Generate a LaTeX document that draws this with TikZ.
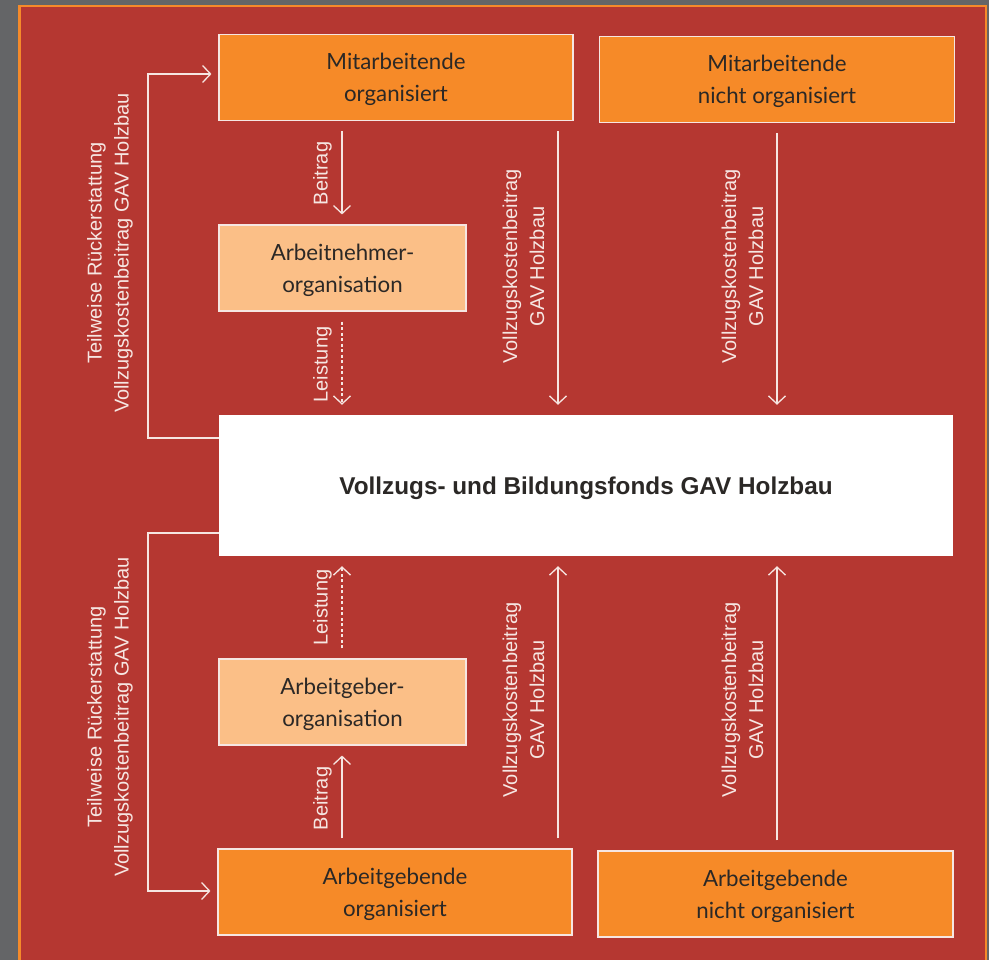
\documentclass[tikz,border=0pt]{standalone}
\usepackage{fontspec}
\setmainfont{Liberation Sans}
\newfontfamily\boxfont{Lato}
\usetikzlibrary{arrows.meta}
\definecolor{greybg}{HTML}{646567}
\definecolor{frameorange}{HTML}{F58A2A}
\definecolor{redbg}{HTML}{B53731}
\definecolor{boxorange}{HTML}{F68A28}
\definecolor{boxlight}{HTML}{FBBF87}
\definecolor{linecol}{HTML}{F6E6E2}
\definecolor{textdark}{HTML}{2B2826}
\begin{document}
\begin{tikzpicture}[x=1pt,y=-1pt,
  box/.style={draw=linecol, line width=1.1pt, inner sep=0pt,
    font=\boxfont\fontsize{22.3}{32}\selectfont, text=textdark, align=center, text depth=0pt},
  wide/.style={box, fill=boxorange, minimum width=354pt, minimum height=86pt},
  orgbox/.style={box, fill=boxlight, minimum width=247pt, minimum height=86pt},
  flow/.style={draw=linecol, line width=1.3pt, -{Straight Barb[length=8pt,width=17pt]},
    shorten <=10pt, shorten >=10pt},
  dashedflow/.style={flow, dash pattern=on 3pt off 2.5pt},
  lab/.style={font=\fontsize{20}{27}\selectfont, text=linecol, inner sep=0pt,
    rotate=90, align=center}]
\useasboundingbox (0,0) rectangle (989,960);
% background and frame
\fill[greybg] (0,0) rectangle (989,960);
\fill[frameorange] (18,5) rectangle (987,965);
\fill[redbg] (20.5,7.5) rectangle (984.5,965);

% boxes
\node[wide] (mo) at (396,77.5) {Mitarbeitende\\organisiert};
\node[wide, minimum width=355pt] (mno) at (777,79.5) {Mitarbeitende\\nicht organisiert};
\node[orgbox] (ano) at (342.5,268) {Arbeitnehmer-\\organisation};
\node[fill=white, inner sep=0pt, minimum width=734pt, minimum height=141pt,
  font=\bfseries\fontsize{24.3}{28}\selectfont, text=textdark, text depth=0pt]
  (fund) at (586,485.5) {Vollzugs- und Bildungsfonds GAV Holzbau};
\node[orgbox] (ago) at (342.5,702) {Arbeitgeber-\\organisation};
\node[wide] (ag) at (395,892) {Arbeitgebende\\organisiert};
\node[wide, minimum width=355pt] (agno) at (775.5,894) {Arbeitgebende\\nicht organisiert};

% columns
\coordinate (cA) at (342,0);
\coordinate (cB) at (558,0);
\coordinate (cC) at (777,0);

% top flows
\draw[flow] (mo.south -| cA) -- (ano.north -| cA);
\draw[dashedflow] (ano.south -| cA) -- (fund.north -| cA);
\draw[flow] (mo.south -| cB) -- (fund.north -| cB);
\draw[flow] (mno.south -| cC) -- (fund.north -| cC);
% bottom flows
\draw[flow] (ag.north -| cA) -- (ago.south -| cA);
\draw[dashedflow] (ago.north -| cA) -- (fund.south -| cA);
\draw[flow] (ag.north -| cB) -- (fund.south -| cB);
\draw[flow] (agno.north -| cC) -- (fund.south -| cC);

% left loops
\coordinate (lt) at (148,438);
\coordinate (lu) at (148,74);
\coordinate (lb) at (148,533);
\coordinate (ld) at (148,891);
\draw[flow, shorten <=0pt, shorten >=7pt] (fund.west |- lt) -- (lt) -- (lu) -- (mo.west |- lu);
\draw[flow, shorten <=0pt, shorten >=7pt] (fund.west |- lb) -- (lb) -- (ld) -- (ag.west |- ld);

% labels
\node[lab] (l1) at (110,253) {Teilweise Rückerstattung\\Vollzugskostenbeitrag GAV Holzbau};
\node[lab] (l2) at (110,717) {Teilweise Rückerstattung\\Vollzugskostenbeitrag GAV Holzbau};
\node[lab, anchor=base] (b1) at (327.5,173.5) {Beitrag};
\node[lab, anchor=base] (s1) at (327.5,364.5) {Leistung};
\node[lab, anchor=base] (s2) at (327.5,607.5) {Leistung};
\node[lab, anchor=base] (b2) at (327.5,798.5) {Beitrag};
\node[lab] (v1) at (523.5,266.5) {Vollzugskostenbeitrag\\GAV Holzbau};
\node[lab] (v2) at (742.5,266.5) {Vollzugskostenbeitrag\\GAV Holzbau};
\node[lab] (v3) at (523.5,700) {Vollzugskostenbeitrag\\GAV Holzbau};
\node[lab] (v4) at (742.5,700) {Vollzugskostenbeitrag\\GAV Holzbau};
\end{tikzpicture}
\end{document}
